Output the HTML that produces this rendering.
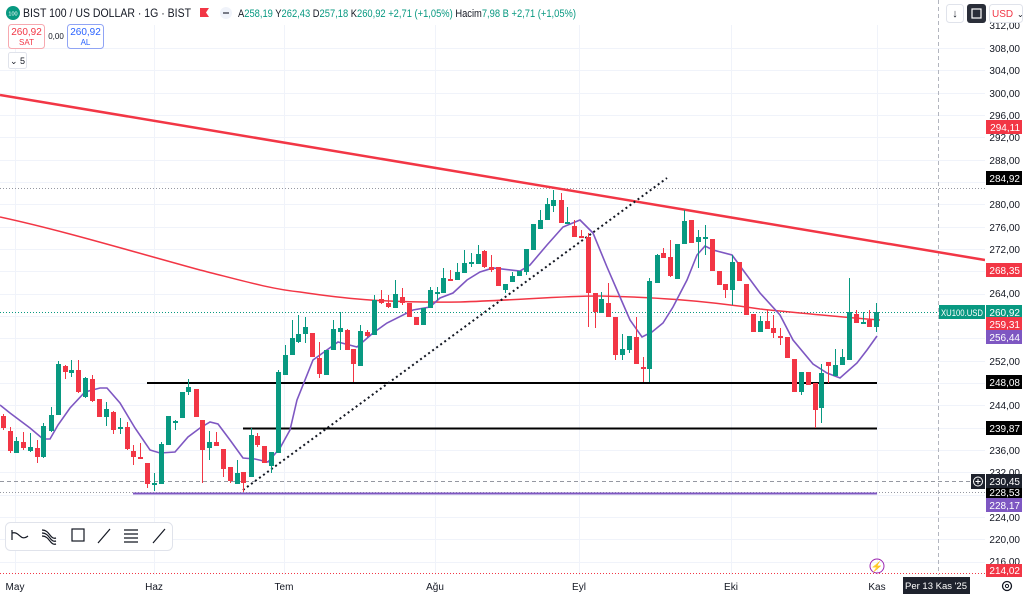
<!DOCTYPE html>
<html><head><meta charset="utf-8"><style>
body{margin:0;width:1024px;height:597px;overflow:hidden;background:#fff;font-family:"Liberation Sans",sans-serif;}
svg{position:absolute;left:0;top:0}
.t{font-size:10px;fill:#131722}
.g{fill:#089981}.r{fill:#f23645}
</style></head><body>
<svg width="1024" height="597" viewBox="0 0 1024 597" xmlns="http://www.w3.org/2000/svg">
<g stroke="#f0f3fa" stroke-width="1">
<path d="M0 48.5H985M0 70.5H985M0 93.5H985M0 115.5H985M0 137.5H985M0 160.5H985M0 182.5H985M0 204.5H985M0 227.5H985M0 249.5H985M0 271.5H985M0 294.5H985M0 316.5H985M0 338.5H985M0 361.5H985M0 383.5H985M0 405.5H985M0 428.5H985M0 450.5H985M0 472.5H985M0 495.5H985M0 517.5H985M0 539.5H985M0 562.5H985"/>
<path d="M15.5 25V575M154.5 25V575M284.5 25V575M435.5 25V575M579.5 25V575M731.5 25V575M877.5 25V575"/>
</g>
<path d="M0 481.5H985" stroke="#9598a1" stroke-dasharray="4 3"/>
<path d="M938.5 0V575" stroke="#b2b5be" stroke-dasharray="4 3"/>
<path d="M0 188.5H985" stroke="#9598a1" stroke-dasharray="1 2"/>
<path d="M0 312.5H985" stroke="#089981" stroke-dasharray="1 2"/>
<path d="M0 573.5H985" stroke="#f23645" stroke-dasharray="1 2"/>
<path d="M0 492.5H985" stroke="#9598a1" stroke-dasharray="1 2"/>
<path d="M0 217 C60 230 120 248 200 270 C240 280 270 289 300 292 C340 298 380 303 460 302 C520 300 560 296 600 296 C650 297 700 300 760 309 C800 313 840 317 880 320" fill="none" stroke="#f23645" stroke-width="1.5"/>
<path d="M0 95L985 260" stroke="#f23645" stroke-width="2.5"/>
<path d="M147 383H877M243 428.5H877" stroke="#000" stroke-width="2"/>
<path d="M133 493.5H877" stroke="#7e57c2" stroke-width="2"/>
<path d="M243 490L667 178" stroke="#131722" stroke-width="2" stroke-dasharray="2 3"/>
<polyline fill="none" stroke="#7e57c2" stroke-width="1.6" points="0,405 10,413 30,428 43,439 50,439 58,425 70,408 85,392 100,388 107,388 120,403 135,428 150,450 160,453 175,452 188,437 200,428 210,422 218,424 230,440 243,458 255,459 268,462 280,448 290,430 297,400 313,360 338,342 357,347 373,333 387,323 413,310 430,307 440,298 453,293 467,280 480,272 493,268 520,271 530,265 547,245 563,227 580,220 593,233 607,267 620,297 630,320 642,337 652,332 663,323 673,307 687,280 697,255 705,246 713,250 732,255 743,270 760,293 780,315 793,340 813,364 827,373 840,378 857,363 867,350 877,336"/>
<path stroke="#089981" stroke-width="1" fill="none" d="M16.5 437V453M30.5 433V452M43.5 423V458M51.5 407V432M58.5 361V415M71.5 360V377M85.5 377V398M106.5 402V426M120.5 418V434M154.5 473V491M161.5 442V484M168.5 416V445M175.5 420V430M182.5 392V418M188.5 379V395M209.5 431V460M237.5 460V484M251.5 428V477M271.5 452V473M278.5 370V453M285.5 345V375M292.5 320V355M298.5 315V343M305.5 317V343M326.5 350V375M333.5 320V350M340.5 312V350M360.5 325V366M374.5 295V335M395.5 280V308M423.5 308V325M430.5 287V308M437.5 287V300M443.5 268V293M457.5 263V280M464.5 250V273M471.5 253V267M478.5 245V264M505.5 284V293M512.5 272V282M519.5 271V276M526.5 249V275M533.5 224V250M540.5 210V229M547.5 198V220M553.5 190V212M567.5 207V223M601.5 292V313M622.5 334V360M629.5 336V353M649.5 278V382M657.5 254V283M677.5 244V279M684.5 210V244M698.5 230V268M705.5 225V255M732.5 255V305M760.5 316V332M801.5 372V395M821.5 364V423M835.5 349V376M842.5 349V365M849.5 278V360M863.5 312V323M876.5 303V332"/>
<path stroke="#f23645" stroke-width="1" fill="none" d="M3.5 414V430M10.5 427V453M23.5 432V450M37.5 440V463M65.5 365V379M78.5 360V393M92.5 375V402M99.5 399V417M113.5 411V434M127.5 422V450M133.5 445V465M140.5 443V459M147.5 463V488M196.5 389V417M202.5 420V483M216.5 432V446M223.5 449V477M230.5 467V483M243.5 472V492M257.5 433V447M264.5 446V463M312.5 333V357M319.5 342V378M347.5 329V350M353.5 349V382M367.5 330V337M381.5 290V304M388.5 295V308M402.5 288V305M409.5 303V317M416.5 317V325M450.5 270V280M484.5 250V268M491.5 255V272M498.5 267V286M561.5 193V223M574.5 220V237M581.5 230V238M588.5 233V327M595.5 293V328M608.5 283V317M615.5 317V360M636.5 317V364M643.5 357V382M663.5 248V258M670.5 240V277M691.5 220V243M712.5 239V271M719.5 271V285M725.5 284V298M739.5 262V281M746.5 284V315M753.5 314V332M767.5 310V329M773.5 315V338M780.5 328V345M787.5 337V358M794.5 359V392M808.5 372V385M815.5 383V428M828.5 362V383M856.5 310V323M869.5 310V327"/>
<g class="g">
<rect x="14" y="441" width="5" height="12"/><rect x="28" y="447" width="5" height="4"/><rect x="41" y="426" width="5" height="31"/><rect x="49" y="415" width="5" height="16"/><rect x="56" y="364" width="5" height="51"/><rect x="69" y="370" width="5" height="3"/><rect x="83" y="378" width="5" height="19"/><rect x="104" y="409" width="5" height="8"/><rect x="118" y="427" width="5" height="2"/><rect x="152" y="483" width="5" height="2"/><rect x="159" y="444" width="5" height="40"/><rect x="166" y="416" width="5" height="29"/><rect x="173" y="421" width="5" height="2"/><rect x="180" y="392" width="5" height="26"/><rect x="186" y="387" width="5" height="5"/><rect x="207" y="442" width="5" height="6"/><rect x="235" y="473" width="5" height="11"/><rect x="249" y="435" width="5" height="42"/><rect x="269" y="452" width="5" height="14"/><rect x="276" y="372" width="5" height="81"/><rect x="283" y="355" width="5" height="20"/><rect x="290" y="338" width="5" height="17"/><rect x="296" y="334" width="5" height="8"/><rect x="303" y="327" width="5" height="7"/><rect x="324" y="350" width="5" height="25"/><rect x="331" y="329" width="5" height="21"/><rect x="338" y="328" width="5" height="4"/><rect x="358" y="331" width="5" height="35"/><rect x="372" y="300" width="5" height="35"/><rect x="393" y="294" width="5" height="14"/><rect x="421" y="308" width="5" height="17"/><rect x="428" y="290" width="5" height="18"/><rect x="435" y="292" width="5" height="2"/><rect x="441" y="278" width="5" height="15"/><rect x="455" y="272" width="5" height="8"/><rect x="462" y="263" width="5" height="10"/><rect x="469" y="262" width="5" height="2"/><rect x="476" y="254" width="5" height="10"/><rect x="503" y="284" width="5" height="6"/><rect x="510" y="276" width="5" height="6"/><rect x="517" y="271" width="5" height="5"/><rect x="524" y="249" width="5" height="23"/><rect x="531" y="224" width="5" height="26"/><rect x="538" y="220" width="5" height="9"/><rect x="545" y="204" width="5" height="16"/><rect x="551" y="200" width="5" height="6"/><rect x="565" y="222" width="5" height="2"/><rect x="599" y="299" width="5" height="14"/><rect x="620" y="349" width="5" height="6"/><rect x="627" y="336" width="5" height="14"/><rect x="647" y="281" width="5" height="88"/><rect x="655" y="255" width="5" height="28"/><rect x="675" y="244" width="5" height="35"/><rect x="682" y="221" width="5" height="23"/><rect x="696" y="237" width="5" height="5"/><rect x="703" y="237" width="5" height="2"/><rect x="730" y="262" width="5" height="28"/><rect x="758" y="321" width="5" height="11"/><rect x="799" y="372" width="5" height="20"/><rect x="819" y="373" width="5" height="35"/><rect x="833" y="365" width="5" height="11"/><rect x="840" y="357" width="5" height="8"/><rect x="847" y="312" width="5" height="48"/><rect x="861" y="322" width="5" height="2"/><rect x="874" y="312" width="5" height="15"/>
</g>
<g class="r">
<rect x="1" y="416" width="5" height="12"/><rect x="8" y="431" width="5" height="20"/><rect x="21" y="442" width="5" height="6"/><rect x="35" y="448" width="5" height="9"/><rect x="63" y="366" width="5" height="6"/><rect x="76" y="370" width="5" height="22"/><rect x="90" y="379" width="5" height="22"/><rect x="97" y="399" width="5" height="18"/><rect x="111" y="412" width="5" height="18"/><rect x="125" y="427" width="5" height="22"/><rect x="131" y="451" width="5" height="6"/><rect x="138" y="457" width="5" height="2"/><rect x="145" y="463" width="5" height="21"/><rect x="194" y="389" width="5" height="28"/><rect x="200" y="420" width="5" height="30"/><rect x="214" y="442" width="5" height="4"/><rect x="221" y="449" width="5" height="20"/><rect x="228" y="467" width="5" height="14"/><rect x="241" y="472" width="5" height="11"/><rect x="255" y="436" width="5" height="9"/><rect x="262" y="446" width="5" height="17"/><rect x="310" y="333" width="5" height="24"/><rect x="317" y="358" width="5" height="16"/><rect x="345" y="330" width="5" height="20"/><rect x="351" y="349" width="5" height="15"/><rect x="365" y="332" width="5" height="4"/><rect x="379" y="299" width="5" height="4"/><rect x="386" y="303" width="5" height="4"/><rect x="400" y="297" width="5" height="6"/><rect x="407" y="303" width="5" height="14"/><rect x="414" y="317" width="5" height="8"/><rect x="448" y="279" width="5" height="2"/><rect x="482" y="251" width="5" height="16"/><rect x="489" y="267" width="5" height="3"/><rect x="496" y="267" width="5" height="19"/><rect x="559" y="200" width="5" height="23"/><rect x="572" y="226" width="5" height="11"/><rect x="579" y="236" width="5" height="2"/><rect x="586" y="237" width="5" height="56"/><rect x="593" y="293" width="5" height="19"/><rect x="606" y="303" width="5" height="14"/><rect x="613" y="317" width="5" height="38"/><rect x="634" y="337" width="5" height="27"/><rect x="641" y="367" width="5" height="2"/><rect x="661" y="253" width="5" height="5"/><rect x="668" y="257" width="5" height="19"/><rect x="689" y="220" width="5" height="23"/><rect x="710" y="239" width="5" height="32"/><rect x="717" y="271" width="5" height="14"/><rect x="723" y="284" width="5" height="6"/><rect x="737" y="262" width="5" height="19"/><rect x="744" y="284" width="5" height="31"/><rect x="751" y="314" width="5" height="18"/><rect x="765" y="321" width="5" height="8"/><rect x="771" y="328" width="5" height="5"/><rect x="778" y="336" width="5" height="2"/><rect x="785" y="337" width="5" height="21"/><rect x="792" y="359" width="5" height="33"/><rect x="806" y="372" width="5" height="13"/><rect x="813" y="383" width="5" height="27"/><rect x="826" y="362" width="5" height="4"/><rect x="854" y="314" width="5" height="9"/><rect x="867" y="320" width="5" height="7"/>
</g>
<rect x="985" y="0" width="39" height="575" fill="#fff"/>
<g class="t" text-anchor="end">
<text x="1020" y="29">312,00</text><text x="1020" y="52">308,00</text><text x="1020" y="74">304,00</text><text x="1020" y="97">300,00</text><text x="1020" y="119">296,00</text><text x="1020" y="141">292,00</text><text x="1020" y="164">288,00</text><text x="1020" y="208">280,00</text><text x="1020" y="231">276,00</text><text x="1020" y="253">272,00</text><text x="1020" y="297">264,00</text><text x="1020" y="365">252,00</text><text x="1020" y="409">244,00</text><text x="1020" y="454">236,00</text><text x="1020" y="476">232,00</text><text x="1020" y="521">224,00</text><text x="1020" y="543">220,00</text><text x="1020" y="565">216,00</text>
</g>
<g font-size="10" fill="#fff" text-anchor="end">
<rect x="986" y="120" width="36" height="14" fill="#f23645"/><text x="1020" y="131">294,11</text>
<rect x="986" y="171" width="36" height="14" fill="#000"/><text x="1020" y="182">284,92</text>
<rect x="986" y="263" width="36" height="14" fill="#f23645"/><text x="1020" y="274">268,35</text>
<rect x="939" y="305" width="46" height="14" fill="#089981"/><text x="983" y="316" font-size="9" textLength="42" lengthAdjust="spacingAndGlyphs">XU100.USD</text>
<rect x="986" y="305" width="36" height="14" fill="#089981"/><text x="1020" y="316">260,92</text>
<rect x="986" y="317" width="36" height="14" fill="#f23645"/><text x="1020" y="328">259,31</text>
<rect x="986" y="330" width="36" height="14" fill="#7e57c2"/><text x="1020" y="341">256,44</text>
<rect x="986" y="375" width="36" height="14" fill="#000"/><text x="1020" y="386">248,08</text>
<rect x="986" y="421" width="36" height="14" fill="#000"/><text x="1020" y="432">239,87</text>
<rect x="986" y="486" width="36" height="13" fill="#000"/><text x="1020" y="496">228,53</text>
<rect x="971" y="474" width="14" height="15" fill="#1e222d"/><circle cx="978" cy="481.5" r="4.5" fill="none" stroke="#fff"/><path d="M978 479V484M975.5 481.5H980.5" stroke="#fff"/>
<rect x="986" y="474" width="36" height="14" fill="#1e222d"/><text x="1020" y="485">230,45</text>
<rect x="986" y="498" width="36" height="14" fill="#7e57c2"/><text x="1020" y="509">228,17</text>
<rect x="986" y="564" width="36" height="13" fill="#f23645"/><text x="1020" y="574">214,02</text>
</g>
<g class="t" text-anchor="middle" font-size="9.5">
<text x="15" y="590">May</text><text x="154" y="590">Haz</text><text x="284" y="590">Tem</text><text x="435" y="590">Ağu</text><text x="579" y="590">Eyl</text><text x="731" y="590">Eki</text><text x="877" y="590">Kas</text>
</g>
<rect x="903" y="577" width="67" height="17" fill="#1e222d"/>
<text x="936" y="589" font-size="9.5" fill="#fff" text-anchor="middle">Per 13 Kas '25</text>
<circle cx="1007" cy="586" r="4.5" fill="none" stroke="#131722" stroke-width="1.3"/><circle cx="1007" cy="586" r="1.6" fill="none" stroke="#131722"/>
<circle cx="877" cy="566" r="7" fill="none" stroke="#9c27b0"/><text x="877" y="570" font-size="10" fill="#9c27b0" text-anchor="middle">⚡</text>
<rect x="5.5" y="522.5" width="167" height="28" rx="5" fill="#fff" stroke="#e0e3eb"/>
<g stroke="#131722" stroke-width="1.2" fill="none">
<path d="M12 540V530M12 533C20 531 20 542 28 536"/><path d="M42 530C50 530 50 540 56 538M42 533C50 533 50 543 56 541M42 536C50 536 50 546 56 544"/>
<rect x="72" y="529" width="12" height="12"/><path d="M98 543L110 529"/><path d="M124 530H138M124 534H138M124 538H138M124 542H138"/><path d="M153 543L165 529"/>
</g>
<circle cx="13" cy="13" r="7" fill="#089981"/><text x="13" y="15.5" font-size="5.5" fill="#fff" text-anchor="middle">100</text>
<text x="23" y="17" font-size="12" fill="#131722" textLength="168" lengthAdjust="spacingAndGlyphs">BIST 100 / US DOLLAR · 1G · BIST</text>
<path d="M200 8H209L206 12.5L209 17H200Z" fill="#f23645"/>
<circle cx="226" cy="13" r="6" fill="#f0f3fa"/><path d="M223 13H229" stroke="#787b86" stroke-width="2"/>
<text x="238" y="17" font-size="11" fill="#131722" textLength="338" lengthAdjust="spacingAndGlyphs">A<tspan fill="#089981">258,19</tspan> Y<tspan fill="#089981">262,43</tspan> D<tspan fill="#089981">257,18</tspan> K<tspan fill="#089981">260,92 +2,71 (+1,05%)</tspan> Hacim<tspan fill="#089981">7,98 B +2,71 (+1,05%)</tspan></text>
<rect x="8.5" y="24.5" width="36" height="24" rx="3" fill="#fff" stroke="#f7a9b0"/>
<text x="26.5" y="35" font-size="10" fill="#f23645" text-anchor="middle">260,92</text><text x="26.5" y="45" font-size="8" fill="#f23645" text-anchor="middle">SAT</text>
<text x="56" y="39" font-size="8" fill="#131722" text-anchor="middle">0,00</text>
<rect x="67.5" y="24.5" width="36" height="24" rx="3" fill="#fff" stroke="#90a4f5"/>
<text x="85.5" y="35" font-size="10" fill="#2962ff" text-anchor="middle">260,92</text><text x="85.5" y="45" font-size="8" fill="#2962ff" text-anchor="middle">AL</text>
<rect x="8.5" y="52.5" width="18" height="16" rx="2" fill="#fff" stroke="#e0e3eb"/>
<text x="17.5" y="64" font-size="9" fill="#131722" text-anchor="middle">⌄ 5</text>
<rect x="946.5" y="4.5" width="17" height="18" rx="3" fill="#fff" stroke="#e0e3eb"/><text x="955" y="17" font-size="11" fill="#131722" text-anchor="middle">↓</text>
<rect x="967" y="4" width="19" height="19" rx="3" fill="#2a2e39"/><rect x="972" y="9" width="9" height="9" fill="none" stroke="#fff" stroke-width="1.2"/>
<rect x="989.5" y="4.5" width="33" height="18" rx="3" fill="#fff" stroke="#e0e3eb"/>
<text x="992" y="17" font-size="10" fill="#f23645">USD</text><text x="1017" y="17" font-size="8" fill="#131722">⌄</text>
</svg>
</body></html>
